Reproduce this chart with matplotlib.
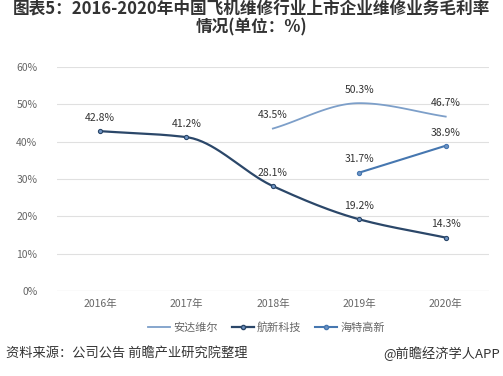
import matplotlib
matplotlib.use("Agg")
import matplotlib.pyplot as plt
import numpy as np

plt.rcParams['font.family'] = ['Noto Sans CJK SC', 'DejaVu Sans']

years = ['2016年', '2017年', '2018年', '2019年', '2020年']
andawell = [None, None, 43.5, 50.3, 46.7]     # 安达维尔
hangxin = [42.8, 41.2, 28.1, 19.2, 14.3]      # 航新科技
haite = [None, None, None, 31.7, 38.9]        # 海特高新

series = [
    ('安达维尔', andawell, '#7d9fc9', False, 1.3),
    ('航新科技', hangxin, '#2b4769', True, 1.6),
    ('海特高新', haite, '#4677b0', True, 1.5),
]


def smooth(x, y, n=40):
    # monotone cubic (Fritsch-Carlson) just for drawing a smooth curve
    x = np.asarray(x, float)
    y = np.asarray(y, float)
    if len(x) < 3:
        return x, y
    h = np.diff(x)
    d = np.diff(y) / h
    m = np.zeros_like(y)
    m[0], m[-1] = d[0], d[-1]
    for i in range(1, len(x) - 1):
        if d[i - 1] * d[i] <= 0:
            m[i] = 0
        else:
            m[i] = 2 / (1 / d[i - 1] + 1 / d[i])
    xs, ys = [], []
    for i in range(len(x) - 1):
        t = np.linspace(0, 1, n)
        h00 = 2 * t**3 - 3 * t**2 + 1
        h10 = t**3 - 2 * t**2 + t
        h01 = -2 * t**3 + 3 * t**2
        h11 = t**3 - t**2
        xs.append(x[i] + t * h[i])
        ys.append(h00 * y[i] + h10 * h[i] * m[i] + h01 * y[i + 1] + h11 * h[i] * m[i + 1])
    return np.concatenate(xs), np.concatenate(ys)


fig = plt.figure(figsize=(5.03, 3.76), dpi=100)
ax = fig.add_axes([0.113, 0.226, 0.859, 0.596])

xpos = np.arange(len(years))
for name, vals, color, marker, lw in series:
    px = [i for i, v in enumerate(vals) if v is not None]
    py = [v for v in vals if v is not None]
    sx, sy = smooth(px, py)
    ax.plot(sx, sy, color=color, lw=lw, zorder=3)
    if marker:
        ax.plot(px, py, 'o', ms=3.0, mfc='#6f94c4', mec=color, mew=0.8, zorder=4)
    for i, v in zip(px, py):
        ax.text(i, v + 2.2, f'{v:.1f}%', ha='center', va='bottom',
                fontsize=7.5, color='#333333', zorder=5)

# legend proxies
handles = []
for name, vals, color, marker, lw in series:
    h, = ax.plot([], [], color=color, lw=lw,
                 marker='o' if marker else None, ms=3.0,
                 mfc='#6f94c4', mec=color, label=name)
    handles.append(h)
leg = fig.legend(handles=handles, loc='center', bbox_to_anchor=(0.53, 0.13),
                 ncol=3, frameon=False, fontsize=8, handlelength=2.0,
                 columnspacing=1.2, handletextpad=0.3, labelcolor='#666666')

ax.set_xlim(-0.5, len(years) - 0.5)
ax.set_ylim(0, 60)
ax.set_yticks(range(0, 61, 10))
ax.set_yticklabels([f'{v}%' for v in range(0, 61, 10)])
ax.set_xticks(xpos)
ax.set_xticklabels(years)
ax.tick_params(length=0, labelsize=7.5, labelcolor='#666666', pad=6)
ax.tick_params(axis='y', pad=14)
ax.grid(axis='y', color='#e0e0e0', lw=0.8)
ax.set_axisbelow(True)
for s in ax.spines.values():
    s.set_visible(False)
ax.axhline(0, color='#cccccc', lw=0.8)

fig.text(0.5, 0.952, '图表5：2016-2020年中国飞机维修行业上市企业维修业务毛利率\n情况(单位：%)',
         ha='center', va='center', fontsize=12, fontweight='bold',
         color='#333333', linespacing=1.0)
fig.text(0.012, 0.06, '资料来源：公司公告 前瞻产业研究院整理', ha='left', va='center',
         fontsize=9.5, color='#333333')
fig.text(0.995, 0.06, '@前瞻经济学人APP', ha='right', va='center',
         fontsize=9.5, color='#333333')

fig.savefig('out.png', dpi=100)
